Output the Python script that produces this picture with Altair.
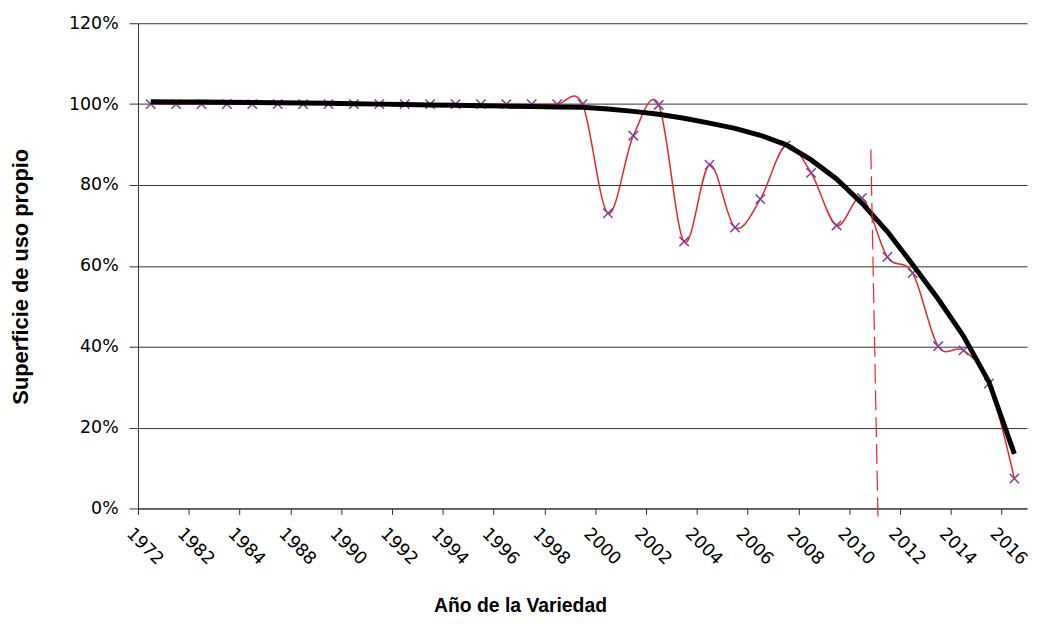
import altair as alt
import pandas as pd

# categories (only every other one is labelled in the reference)
years = ["1972", "1981", "1982", "1983", "1984", "1986", "1988", "1989", "1990", "1991",
         "1992", "1993", "1994", "1995", "1996", "1997", "1998", "1999", "2000", "2001",
         "2002", "2003", "2004", "2005", "2006", "2007", "2008", "2009", "2010", "2011",
         "2012", "2013", "2014", "2015", "2016"]

# observed share (%) of own-use area
observed = [100, 100, 100, 100, 100, 100, 100, 100, 100, 100,
            100, 100, 100, 100, 100, 100, 100, 100, 73.0, 92.2,
            99.8, 66.0, 85.0, 69.5, 76.5, 89.8, 83.0, 70.0, 76.8, 62.2,
            58.2, 40.1, 39.1, 30.9, 7.4]

# trend curve (%)
trend = [100.6, 100.55, 100.5, 100.45, 100.4, 100.35, 100.3, 100.2, 100.1, 100.0,
         99.9, 99.8, 99.7, 99.6, 99.5, 99.4, 99.3, 99.2, 98.8, 98.2,
         97.5, 96.5, 95.3, 94.0, 92.3, 90.0, 86.2, 81.5, 75.5, 68.5,
         60.3, 51.8, 42.6, 31.3, 13.5]

# vertical dashed marker (category index / %)
cut_x = [28.35]
cut_x2 = [28.63]
cut_y = [88.8]
cut_y2 = [-2.0]

df = pd.DataFrame({
    "idx": list(range(len(years))),
    "year": years,
    "observed": observed,
    "trend": trend,
})
cut = pd.DataFrame({"x": cut_x, "x2": cut_x2, "y": cut_y, "y2": cut_y2})

labels_js = "[" + ",".join(
    "'" + (y if i % 2 == 0 else "") + "'" for i, y in enumerate(years)) + ",'']"

tick_vals = [i - 0.5 for i in range(len(years) + 1)]

FONT = "DejaVu Sans"
TFONT = "Liberation Sans"

xscale = alt.Scale(domain=[-0.5, len(years) - 0.5], nice=False, zero=False)
yscale = alt.Scale(domain=[0, 120], nice=False, zero=True)

xaxis = alt.Axis(
    values=tick_vals,
    labelExpr=labels_js + "[round(datum.value + 0.5)]",
    labelAngle=45, labelAlign="left", labelBaseline="top",
    labelOffset=-3, labelPadding=10, labelOverlap=False, labelFlush=False,
    labelFont=FONT, labelFontSize=17.5, labelColor="black",
    tickSize=6, tickColor="#333", domainColor="#333", grid=False,
    title="Año de la Variedad", titleFont=TFONT, titleFontSize=19.5,
    titleFontWeight="bold", titleColor="black",
    titleX=385, titleY=104, titleBaseline="alphabetic", titleAlign="center",
)
yaxis = alt.Axis(
    values=[0, 20, 40, 60, 80, 100, 120],
    labelExpr="datum.value + '%'",
    labelFont=FONT, labelFontSize=17.5, labelColor="black", labelPadding=11,
    tickSize=9, tickColor="#333", domainColor="#333",
    grid=True, gridColor="#333", gridWidth=1,
    title="Superficie de uso propio", titleFont=TFONT, titleFontSize=22,
    titleFontWeight="bold", titleColor="black",
    titleX=-111, titleY=255, titleBaseline="alphabetic", titleAlign="center",
    titleAngle=-90,
)

base = alt.Chart(df)

red = base.mark_line(color="#E8262C", strokeWidth=1.5,
                     interpolate="cardinal", tension=0).encode(
    x=alt.X("idx:Q", scale=xscale, axis=xaxis),
    y=alt.Y("observed:Q", scale=yscale, axis=yaxis),
)

marks = base.mark_point(shape="M-1,-1L1,1M-1,1L1,-1", filled=False,
                        stroke="#7F3F9F", strokeWidth=1.5, size=90,
                        opacity=1).encode(
    x=alt.X("idx:Q", scale=xscale),
    y=alt.Y("observed:Q", scale=yscale),
)

black = base.mark_line(color="black", strokeWidth=5).encode(
    x=alt.X("idx:Q", scale=xscale),
    y=alt.Y("trend:Q", scale=yscale),
)

dash = alt.Chart(cut).mark_rule(color="#E8262C", strokeWidth=1.2,
                                strokeDash=[20, 7]).encode(
    x=alt.X("x:Q", scale=xscale),
    x2="x2:Q",
    y=alt.Y("y:Q", scale=yscale),
    y2="y2:Q",
)

chart = alt.layer(red, marks, black, dash).properties(
    width=896, height=489,
    autosize=alt.AutoSizeParams(type="none"),
    padding={"left": 131, "top": 13, "right": 8, "bottom": 106},
    background="white",
).configure_view(stroke=None)

chart.save("out.html", embed_options={"renderer": "svg", "actions": False})
